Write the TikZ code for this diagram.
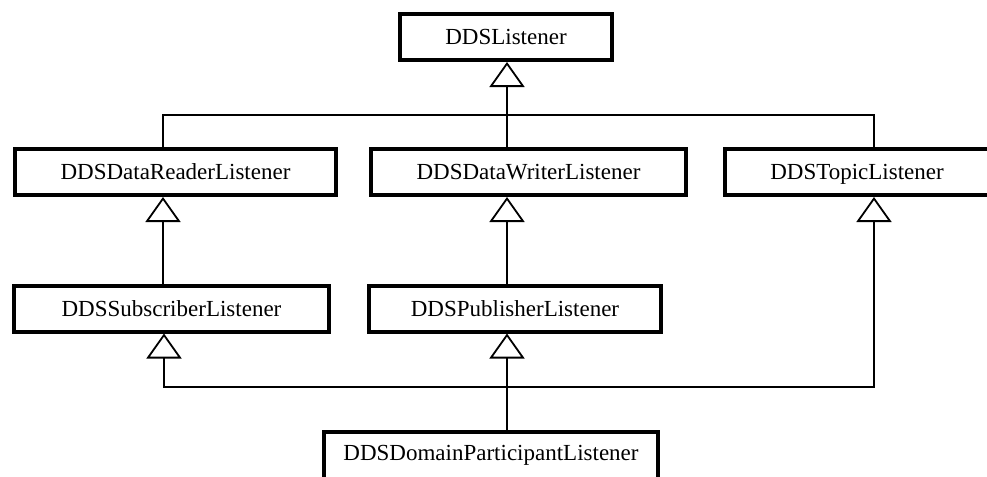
\documentclass[tikz,border=0pt]{standalone}
\usepackage{fontspec}
\setmainfont{Liberation Serif}
\usetikzlibrary{arrows.meta}
\begin{document}
\begin{tikzpicture}[x=0.5pt,y=-0.5pt,
  cls/.style={draw,line width=2pt,minimum height=23pt,inner sep=0pt,text height=9pt,text depth=1.5pt,font=\fontsize{11.5}{13}\selectfont},
  conn/.style={line width=1pt},
  inh/.style={conn,-{Triangle[open,length=12.5pt,width=17.5pt,line width=0.9pt]}}]
\useasboundingbox (0,0) rectangle (987,477);
\clip (0,0) rectangle (987,477);
\node[cls,minimum width=106pt] (ddsl) at (506,37) {DDSListener};
\node[cls,minimum width=160.5pt] (dr) at (175.5,172) {DDSDataReaderListener};
\node[cls,minimum width=157.5pt] (dw) at (528.5,172) {DDSDataWriterListener};
\node[cls,minimum width=132pt] (tp) at (857,172) {DDSTopicListener};
\node[cls,minimum width=157.5pt] (sub) at (171.5,308.5) {DDSSubscriberListener};
\node[cls,minimum width=146pt] (pub) at (515,308.5) {DDSPublisherListener};
\node[cls,minimum width=167pt,minimum height=25pt,text depth=9.5pt,text height=12.5pt] (dp) at (491,457) {DDSDomainParticipantListener};
\coordinate (hl) at (163,115);
\coordinate (hm) at (507,115);
\coordinate (hr) at (874,115);
\coordinate (bl) at (164,387);
\coordinate (br) at (874,387);
\draw[conn] (dr.north -| hl) -- (hl) -- (hr) -- (tp.north -| hr);
\draw[inh] (dw.north -| hm) -- (ddsl.south -| hm);
\draw[inh] (sub.north -| hl) -- (dr.south -| hl);
\draw[inh] (pub.north -| hm) -- (dw.south -| hm);
\draw[inh] (dp.north -| hm) -- (pub.south -| hm);
\draw[inh] (br) -- (bl) -- (sub.south -| bl);
\draw[inh] (bl) -- (br) -- (tp.south -| br);
\end{tikzpicture}
\end{document}
